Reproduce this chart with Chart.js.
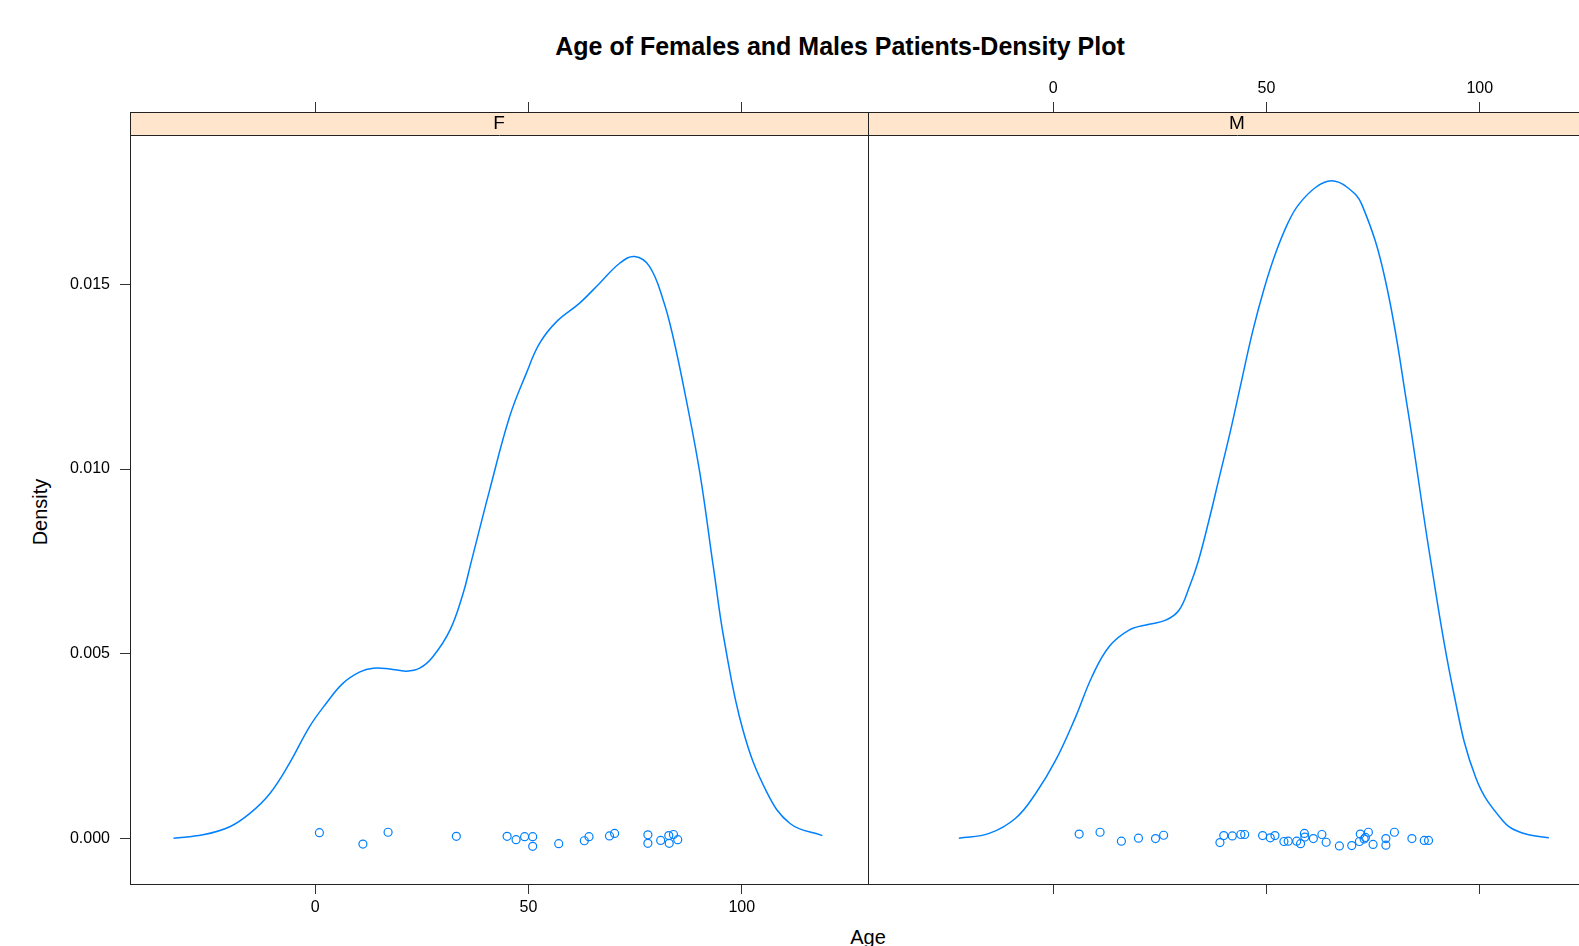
<!DOCTYPE html>
<html>
<head>
<meta charset="utf-8">
<title>Age of Females and Males Patients-Density Plot</title>
<script src="https://cdn.jsdelivr.net/npm/chart.js@4.4.1/dist/chart.umd.min.js"></script>
<style>
  html, body { margin: 0; padding: 0; background: #fff; overflow: hidden; }
  body { width: 1579px; height: 946px; position: relative;
         font-family: "Liberation Sans", Arial, Helvetica, sans-serif; color: #000; }
  #titulo { position: absolute; left: 840px; top: 34px; transform: translateX(-50%);
            font-weight: bold; font-size: 25px; line-height: 1; white-space: nowrap; }
  #ylab { position: absolute; left: 40px; top: 512px; transform: translate(-50%, -50%) rotate(-90deg);
          font-size: 20px; line-height: 1; white-space: nowrap; }
  #xlab { position: absolute; left: 868px; top: 927px; transform: translateX(-50%);
          font-size: 20px; line-height: 1; white-space: nowrap; }
  #panelF { position: absolute; left: 0; top: 0; }
  #panelM { position: absolute; left: 868px; top: 0; }
</style>
</head>
<body>
<div id="titulo">Age of Females and Males Patients-Density Plot</div>
<div id="ylab">Density</div>
<div id="xlab">Age</div>
<canvas id="panelF" width="869" height="946"></canvas>
<canvas id="panelM" width="746" height="946"></canvas>

<script>
// Datos (densidad de edad por sexo)
const paneles = ['F', 'M'];
const ticksEdad = [0, 50, 100];
const ticksDensidad = [0, 0.005, 0.010, 0.015];

// Curva de densidad - mujeres
const edadesCurvaF = [-33.2, -26.3, -20.0, -15.3, -10.6, -6.0, -1.3, 2.6, 6.5, 10.5, 13.6, 17.5, 21.4, 24.5, 27.6,
  31.6, 34.7, 36.4, 40.9, 45.6, 49.5, 52.6, 56.6, 62.0, 66.7, 71.4, 74.9, 78.4, 81.6, 83.9, 87.0, 90.2, 93.4, 95.9,
  100.3, 105.9, 111.4, 118.9];
const densidadCurvaF = [0.00001, 0.0001, 0.00032, 0.00068, 0.00122, 0.00204, 0.00303, 0.00366, 0.0042, 0.00451,
  0.00461, 0.00459, 0.00453, 0.00461, 0.00492, 0.00564, 0.00664, 0.0074, 0.00943, 0.01142, 0.01259, 0.0134, 0.01399,
  0.01449, 0.01503, 0.01557, 0.01575, 0.01548, 0.01457, 0.01358, 0.01187, 0.00988, 0.00731, 0.00536, 0.00293,
  0.00125, 0.0004, 0.00008];

// Curva de densidad - hombres
const edadesCurvaM = [-22.1, -15.0, -8.8, -4.1, 0.6, 5.3, 9.1, 13.1, 17.8, 22.5, 26.4, 29.5, 31.9, 34.0, 36.5, 39.0,
  41.5, 44.0, 46.8, 49.5, 52.2, 55.0, 57.5, 61.5, 65.2, 69, 72.4, 77.8, 83.1, 88.5, 93.8, 99.1, 105.5, 110, 116.2];
const densidadCurvaM = [0.00001, 0.00014, 0.00055, 0.00122, 0.00212, 0.0033, 0.00438, 0.00519, 0.00564, 0.0058,
  0.00591, 0.00618, 0.0068, 0.0075, 0.0086, 0.0098, 0.011, 0.0123, 0.01374, 0.0149, 0.01586, 0.01665, 0.01715,
  0.01762, 0.0178, 0.01762, 0.01715, 0.01515, 0.01163, 0.00752, 0.004, 0.00164, 0.00047, 0.00015, 0.00002];

// Puntos (edades observadas con jitter vertical)
const edadesPuntosF = [1.0, 11.2, 17.1, 33.1, 45.0, 47.1, 49.1, 51.0, 51.0, 57.1, 63.1, 64.2, 69.0, 70.2, 78.0, 78.0,
  81.0, 82.9, 83.0, 84.0, 85.0];
const jitterPuntosF = [0.00016, -0.00015, 0.00017, 0.00006, 0.00006, -0.00003, 0.00005, 0.00005, -0.00021, -0.00014,
  -0.00006, 0.00005, 0.00007, 0.00014, 0.0001, -0.00013, -0.00005, 0.00008, -0.00013, 0.00011, -0.00003];

const edadesPuntosM = [6.1, 11.0, 16.0, 20.0, 24.0, 25.9, 39.1, 40.0, 42.0, 44.0, 44.9, 49.1, 50.9, 52.0, 54.1, 55.1,
  57.1, 58.0, 58.9, 59.0, 61.0, 63.0, 64.0, 67.1, 70.0, 71.8, 72.0, 72.9, 73.2, 73.9, 75.0, 78.0, 78.0, 80.0, 84.1,
  87.0, 88.0];
const jitterPuntosM = [0.00012, 0.00017, -0.00007, 0.00001, 0, 0.00009, -0.00011, 0.00008, 0.00007, 0.00011, 0.00011,
  0.00008, 0.00002, 0.00008, -0.00008, -0.00007, -0.00007, -0.00014, 0.00014, 0.00004, 0, 0.00011, -0.0001, -0.0002,
  -0.00019, -0.00008, 0.00012, -0.00001, 0.00003, 0.00017, -0.00016, 0, -0.00018, 0.00017, 0, -0.00005, -0.00005];

// Limites de los ejes (iguales en ambos paneles)
const EDAD_MIN = -43.4, EDAD_MAX = 129.6;
const DENS_MIN = -0.00123, DENS_MAX = 0.019663;

const AZUL = '#0080ff';
const FUENTE = "'Liberation Sans', Arial, Helvetica, sans-serif";
const ALTO_STRIP = 22.5;

// Dibuja la franja (strip) con la etiqueta del panel y el marco
const pluginStrip = {
  id: 'strip',
  afterDraw(chart, args, opts) {
    const { ctx, chartArea: a } = chart;
    const l = Math.round(a.left) + 0.5;
    const r = Math.round(a.right) + 0.5;
    const t = Math.round(a.top) + 0.5;
    const b = Math.round(a.bottom) + 0.5;
    const sb = Math.round(a.top + ALTO_STRIP) + 0.5;
    ctx.save();
    ctx.fillStyle = '#ffe5cc';
    ctx.fillRect(l, t, r - l, sb - t);
    ctx.strokeStyle = '#222';
    ctx.lineWidth = 1;
    ctx.strokeRect(l, t, r - l, b - t);
    ctx.beginPath();
    ctx.moveTo(l, sb);
    ctx.lineTo(r, sb);
    ctx.stroke();
    ctx.fillStyle = '#000';
    ctx.font = '19px ' + FUENTE;
    ctx.textAlign = 'center';
    ctx.textBaseline = 'middle';
    ctx.fillText(opts.etiqueta, (a.left + a.right) / 2, a.top + ALTO_STRIP / 2 + 1);
    ctx.restore();
  }
};

function ejeEdad(posicion, conEtiquetas, alto) {
  return {
    type: 'linear',
    position: posicion,
    min: EDAD_MIN,
    max: EDAD_MAX,
    afterBuildTicks: (eje) => { eje.ticks = ticksEdad.map(v => ({ value: v })); },
    afterFit: (eje) => { eje.height = alto; eje.paddingLeft = 0; eje.paddingRight = 0; },
    ticks: { display: conEtiquetas, color: '#000', padding: 4, maxRotation: 0, autoSkip: false,
             font: { family: FUENTE, size: 16 } },
    grid: { drawOnChartArea: false, drawTicks: true, tickLength: 10, color: '#333', lineWidth: 1 },
    border: { display: false }
  };
}

function crearPanel(idCanvas, etiqueta, curvaX, curvaY, puntosX, puntosY, conf) {
  const ctx = document.getElementById(idCanvas);
  const curva = curvaX.map((x, i) => ({ x: x, y: curvaY[i] }));
  const puntos = puntosX.map((x, i) => ({ x: x, y: puntosY[i] }));

  new Chart(ctx, {
    type: 'scatter',
    data: {
      datasets: [
        {
          type: 'line',
          data: curva,
          borderColor: AZUL,
          borderWidth: 1.5,
          pointRadius: 0,
          fill: false,
          tension: 0.4
        },
        {
          type: 'scatter',
          data: puntos,
          pointStyle: 'circle',
          pointRadius: 4,
          borderWidth: 1.2,
          borderColor: AZUL,
          backgroundColor: 'rgba(0,0,0,0)'
        }
      ]
    },
    plugins: [pluginStrip],
    options: {
      responsive: false,
      animation: false,
      events: [],
      layout: { autoPadding: false, padding: { left: 0, right: conf.padDer, top: 0, bottom: 0 } },
      plugins: {
        legend: { display: false },
        tooltip: { enabled: false },
        title: { display: false },
        strip: { etiqueta: etiqueta }
      },
      scales: {
        x: ejeEdad('bottom', conf.etiquetasAbajo, 946 - 884),
        xArriba: ejeEdad('top', conf.etiquetasArriba, 112),
        y: {
          type: 'linear',
          display: conf.ejeY,
          min: DENS_MIN,
          max: DENS_MAX,
          afterBuildTicks: (eje) => { eje.ticks = ticksDensidad.map(v => ({ value: v })); },
          afterFit: (eje) => { eje.width = conf.ejeY ? 130 : 0; eje.paddingTop = 0; eje.paddingBottom = 0; },
          ticks: { color: '#000', padding: 10, font: { family: FUENTE, size: 16 },
                   callback: (v) => v.toFixed(3) },
          grid: { drawOnChartArea: false, drawTicks: true, tickLength: 10, color: '#333', lineWidth: 1 },
          border: { display: false }
        }
      }
    }
  });
}

crearPanel('panelF', paneles[0], edadesCurvaF, densidadCurvaF, edadesPuntosF, jitterPuntosF,
  { ejeY: true, etiquetasAbajo: true, etiquetasArriba: false, padDer: 1 });
crearPanel('panelM', paneles[1], edadesCurvaM, densidadCurvaM, edadesPuntosM, jitterPuntosM,
  { ejeY: false, etiquetasAbajo: false, etiquetasArriba: true, padDer: 8 });
</script>
</body>
</html>
